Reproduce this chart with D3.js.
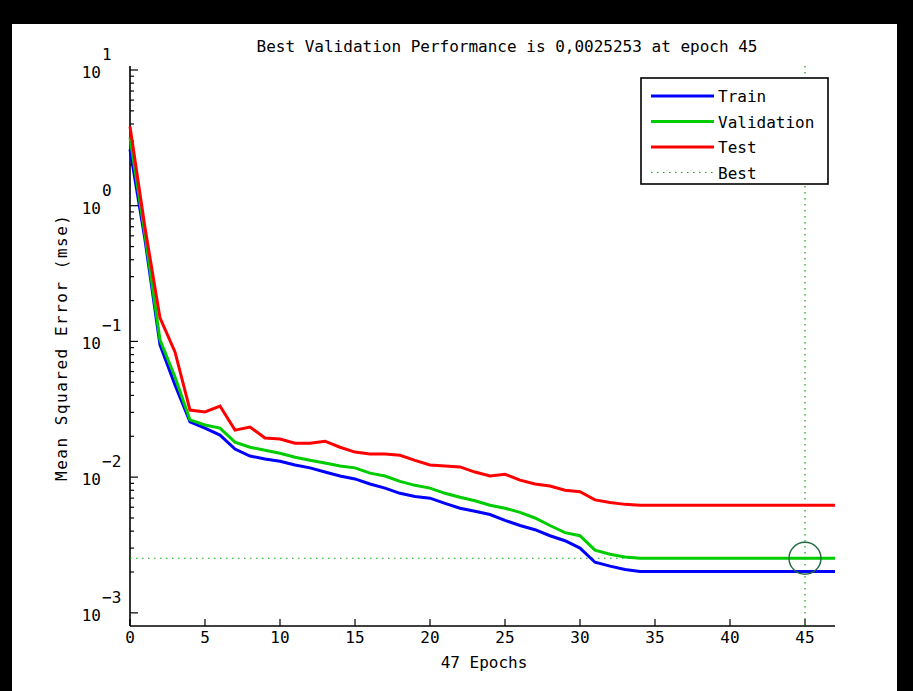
<!DOCTYPE html>
<html>
<head>
<meta charset="utf-8">
<script src="https://cdn.jsdelivr.net/npm/d3@7"></script>
<style>
body { margin: 0; background: #fff; }
text { font-family: "DejaVu Sans Mono", monospace; font-size: 16px; fill: #000; }
</style>
</head>
<body>
<svg id="chart" width="913" height="691"></svg>
<script>
// performance per epoch
var epochs = d3.range(0, 48);
var train = [2.59, 0.561, 0.0942, 0.0477, 0.0255, 0.0230, 0.0204, 0.0161, 0.0143, 0.0136,
    0.0131, 0.0123, 0.0117, 0.0109, 0.0102, 0.0097, 0.0089, 0.0083, 0.0076, 0.0072,
    0.0070, 0.0064, 0.0059, 0.0056, 0.0053, 0.0048, 0.0044, 0.0041, 0.0037, 0.0034,
    0.0030, 0.00236, 0.00221, 0.00209, 0.00202, 0.00202, 0.00202, 0.00202, 0.00202, 0.00202,
    0.00202, 0.00202, 0.00202, 0.00202, 0.00202, 0.00202, 0.00202, 0.00202];
var validation = [3.18, 0.611, 0.1026, 0.0547, 0.0264, 0.0242, 0.0230, 0.0181, 0.0166, 0.0158,
    0.0150, 0.0140, 0.0133, 0.0127, 0.0121, 0.0117, 0.0107, 0.0102, 0.0093, 0.0087,
    0.0083, 0.0076, 0.0071, 0.0067, 0.0062, 0.0059, 0.0055, 0.0050, 0.0044, 0.0039,
    0.0037, 0.0029, 0.0027, 0.00258, 0.0025253, 0.0025253, 0.0025253, 0.0025253, 0.0025253, 0.0025253,
    0.0025253, 0.0025253, 0.0025253, 0.0025253, 0.0025253, 0.0025253, 0.0025253, 0.0025253];
var test = [3.83, 0.689, 0.149, 0.0837, 0.0312, 0.0302, 0.0334, 0.0222, 0.0234, 0.0194,
    0.0191, 0.0178, 0.0178, 0.0184, 0.0166, 0.0153, 0.0148, 0.0148, 0.0145, 0.0133,
    0.0123, 0.0121, 0.0119, 0.0109, 0.0102, 0.0105, 0.0095, 0.0089, 0.0086, 0.0080,
    0.0078, 0.0068, 0.0065, 0.0063, 0.0062, 0.0062, 0.0062, 0.0062, 0.0062, 0.0062,
    0.0062, 0.0062, 0.0062, 0.0062, 0.0062, 0.0062, 0.0062, 0.0062];
var bestEpoch = 45;
var bestPerf = 0.0025253;
var xTicks = [0, 5, 10, 15, 20, 25, 30, 35, 40, 45];
var yExponents = [-3, -2, -1, 0, 1];
var seriesNames = ["Train", "Validation", "Test"];
var seriesColors = ["#0000ff", "#00cc00", "#ff0000"];

var svg = d3.select("#chart");

// black frame round the figure
svg.append("rect").attr("x", 0).attr("y", 0).attr("width", 913).attr("height", 691).attr("fill", "#000");
svg.append("rect").attr("x", 12).attr("y", 24).attr("width", 885).attr("height", 667).attr("fill", "#fff");

var x = d3.scaleLinear().domain([0, 47]).range([130, 835]);
var y = d3.scaleLog().domain([8.0e-4, 10.7]).range([626, 66]);

var left = x(0), bottom = y.range()[0];

// y ticks, majors at decades and minors in between
var minor = [];
yExponents.forEach(function(e){
    for (var m = 2; m < 10; m++){
        var v = m * Math.pow(10, e);
        if (v <= y.domain()[1]) minor.push(v);
    }
});
svg.selectAll(".ymin").data(minor).enter().append("line")
    .attr("x1", left).attr("x2", left + 4)
    .attr("y1", function(d){ return y(d); }).attr("y2", function(d){ return y(d); })
    .attr("stroke", "#000").attr("stroke-width", 1.2);
svg.selectAll(".ymaj").data(yExponents).enter().append("line")
    .attr("x1", left).attr("x2", left + 8)
    .attr("y1", function(d){ return y(Math.pow(10, d)); }).attr("y2", function(d){ return y(Math.pow(10, d)); })
    .attr("stroke", "#000").attr("stroke-width", 1.2);

var ylab = svg.selectAll(".ylab").data(yExponents).enter().append("g")
    .attr("transform", function(d){ return "translate(0," + y(Math.pow(10, d)) + ")"; });
ylab.append("text").attr("x", 101).attr("y", 8).attr("text-anchor", "end").text("10");
ylab.append("text").attr("x", 102).attr("y", -10)
    .text(function(d){ return d < 0 ? "\u2212" + (-d) : String(d); });

// x ticks
svg.selectAll(".xt").data(xTicks).enter().append("line")
    .attr("x1", function(d){ return x(d); }).attr("x2", function(d){ return x(d); })
    .attr("y1", bottom).attr("y2", bottom - 7)
    .attr("stroke", "#000").attr("stroke-width", 1.2);
svg.selectAll(".xl").data(xTicks).enter().append("text")
    .attr("x", function(d){ return x(d); }).attr("y", bottom + 17)
    .attr("text-anchor", "middle").text(function(d){ return d; });

// axes lines (box off)
svg.append("line").attr("x1", left).attr("x2", left).attr("y1", y.range()[1]).attr("y2", bottom)
    .attr("stroke", "#000").attr("stroke-width", 1.6);
svg.append("line").attr("x1", left).attr("x2", x(47)).attr("y1", bottom).attr("y2", bottom)
    .attr("stroke", "#000").attr("stroke-width", 1.6);

// best markers
svg.append("line").attr("x1", left).attr("x2", x(47)).attr("y1", y(bestPerf)).attr("y2", y(bestPerf))
    .attr("stroke", "#11a011").attr("stroke-width", 1.2).attr("stroke-dasharray", "1.5,4.5");
svg.append("line").attr("x1", x(bestEpoch)).attr("x2", x(bestEpoch)).attr("y1", y.range()[1]).attr("y2", bottom)
    .attr("stroke", "#11a011").attr("stroke-width", 1.2).attr("stroke-dasharray", "1.5,4.5");

// curves
var line = d3.line()
    .x(function(d, i){ return x(epochs[i]); })
    .y(function(d){ return y(d); });
[train, validation, test].forEach(function(s, i){
    svg.append("path").datum(s).attr("d", line)
        .attr("fill", "none").attr("stroke", seriesColors[i]).attr("stroke-width", 3);
});

svg.append("circle").attr("cx", x(bestEpoch)).attr("cy", y(bestPerf)).attr("r", 16)
    .attr("fill", "none").attr("stroke", "#1f6a3f").attr("stroke-width", 1.4);

// titles
svg.append("text").attr("x", 507).attr("y", 52).attr("text-anchor", "middle")
    .text("Best Validation Performance is 0,0025253 at epoch 45");
svg.append("text").attr("x", 484).attr("y", 668).attr("text-anchor", "middle").text("47 Epochs");
svg.append("text").attr("transform", "translate(67,348) rotate(-90)").attr("text-anchor", "middle")
    .attr("textLength", 266).attr("lengthAdjust", "spacing")
    .text("Mean Squared Error  (mse)");

// legend
var lg = svg.append("g").attr("transform", "translate(641,78)");
lg.append("rect").attr("width", 187).attr("height", 106).attr("fill", "#fff")
    .attr("stroke", "#000").attr("stroke-width", 1.6);
seriesNames.forEach(function(n, i){
    var ly = 18 + i * 25.5;
    lg.append("line").attr("x1", 10).attr("x2", 73).attr("y1", ly).attr("y2", ly)
        .attr("stroke", seriesColors[i]).attr("stroke-width", 3);
    lg.append("text").attr("x", 77).attr("y", ly + 6).text(n);
});
lg.append("line").attr("x1", 10).attr("x2", 73).attr("y1", 18 + 3 * 25.5).attr("y2", 18 + 3 * 25.5)
    .attr("stroke", "#11a011").attr("stroke-width", 1.2).attr("stroke-dasharray", "1.5,4.5");
lg.append("text").attr("x", 77).attr("y", 18 + 3 * 25.5 + 6).text("Best");
</script>
</body>
</html>
